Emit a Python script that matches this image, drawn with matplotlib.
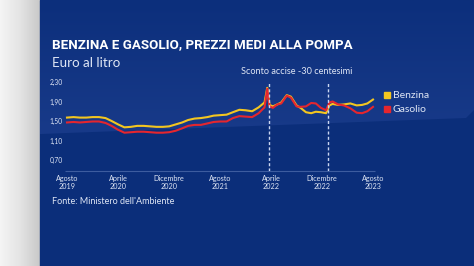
import numpy as np
import pandas as pd
import matplotlib
matplotlib.use('Agg')
import matplotlib.pyplot as plt
import matplotlib.dates as mdates
from matplotlib.patches import Polygon, Rectangle

### data (euro al litro)
dates = ['2019-08-01', '2019-09-01', '2019-10-01', '2019-11-01', '2019-12-01',
         '2020-01-01', '2020-02-01', '2020-03-01', '2020-04-01', '2020-05-01',
         '2020-06-01', '2020-07-01', '2020-08-01', '2020-09-01', '2020-10-01',
         '2020-11-01', '2020-12-01', '2021-01-01', '2021-02-01', '2021-03-01',
         '2021-04-01', '2021-05-01', '2021-06-01', '2021-07-01', '2021-08-01',
         '2021-09-01', '2021-10-01', '2021-11-01', '2021-12-01', '2022-01-01',
         '2022-02-01', '2022-03-01', '2022-03-14', '2022-03-25', '2022-04-10',
         '2022-05-01', '2022-05-20', '2022-06-15', '2022-07-05', '2022-08-01',
         '2022-08-20', '2022-09-15', '2022-10-10', '2022-11-01', '2022-11-25',
         '2022-12-20', '2023-01-05', '2023-01-20', '2023-02-15', '2023-03-15',
         '2023-04-15', '2023-05-15', '2023-06-10', '2023-07-05', '2023-08-01']
benzina = [1.57, 1.58, 1.57, 1.57, 1.58, 1.58, 1.56, 1.50, 1.43, 1.37,
           1.38, 1.40, 1.40, 1.39, 1.38, 1.38, 1.39, 1.43, 1.47, 1.52,
           1.55, 1.56, 1.58, 1.61, 1.62, 1.63, 1.68, 1.73, 1.72, 1.70,
           1.78, 1.88, 2.18, 1.83, 1.80, 1.84, 1.88, 2.03, 2.00, 1.82,
           1.77, 1.68, 1.66, 1.69, 1.68, 1.66, 1.82, 1.85, 1.83, 1.84,
           1.86, 1.82, 1.83, 1.86, 1.94]
gasolio = [1.47, 1.48, 1.47, 1.48, 1.49, 1.49, 1.46, 1.40, 1.32, 1.26,
           1.27, 1.28, 1.28, 1.27, 1.26, 1.26, 1.27, 1.30, 1.35, 1.40,
           1.42, 1.42, 1.45, 1.48, 1.49, 1.49, 1.56, 1.60, 1.59, 1.58,
           1.66, 1.78, 2.16, 1.80, 1.77, 1.84, 1.86, 2.02, 1.98, 1.80,
           1.79, 1.80, 1.87, 1.86, 1.77, 1.72, 1.88, 1.90, 1.84, 1.82,
           1.76, 1.67, 1.66, 1.70, 1.79]
yticks = [0.70, 1.10, 1.50, 1.90, 2.30]
ytick_labels = ['0,70', '1,10', '1,50', '1,90', '2,30']
xtick_dates = ['2019-08-01', '2020-04-01', '2020-12-01', '2021-08-01',
               '2022-04-01', '2022-12-01', '2023-08-01']
xtick_labels = ['Agosto\n2019', 'Aprile\n2020', 'Dicembre\n2020', 'Agosto\n2021',
                'Aprile\n2022', 'Dicembre\n2022', 'Agosto\n2023']
sconto_dates = ['2022-03-22', '2022-12-31']

BG = '#0b2e7a'
TXT = '#dfe6f5'
W, H = 474, 266

plt.rcParams['font.family'] = ['Lato', 'DejaVu Sans']

fig = plt.figure(figsize=(W / 100, H / 100), dpi=100)

### background (pixel coords)
bg = fig.add_axes([0, 0, 1, 1])
bg.set_xlim(0, W)
bg.set_ylim(H, 0)
bg.axis('off')
strip = np.linspace(0, 1, 40)[None, :]
bg.imshow(strip, extent=(0, 40, H, 0), cmap=matplotlib.colors.LinearSegmentedColormap.from_list(
    'g', ['#f4f4f4', '#e4e4e4', '#c9c9c9']), aspect='auto', zorder=0)
bg.add_patch(Rectangle((40, 0), W - 40, H, color=BG, zorder=1))
band = Polygon([(40, 0), (W, 0), (W, 110), (466, 118), (40, 134)], closed=True,
               facecolor='none', edgecolor='none')
bg.add_patch(band)
grad = np.linspace(0, 1, 100)[:, None]
im = bg.imshow(grad, extent=(40, W, 134, 0), aspect='auto', zorder=2,
               cmap=matplotlib.colors.LinearSegmentedColormap.from_list('b', ['#0c2f7c', '#183a89']))
im.set_clip_path(band)
bg.set_xlim(0, W)
bg.set_ylim(H, 0)

### texts
fig.text(52 / W, 1 - 45 / H, 'BENZINA E GASOLIO, PREZZI MEDI ALLA POMPA',
         family=['Roboto', 'DejaVu Sans'], weight='bold',
         fontsize=9.6, color='white', va='center', ha='left')
fig.text(52 / W, 1 - 63 / H, 'Euro al litro', fontsize=9.6, color=TXT,
         va='center', ha='left')
fig.text(52 / W, 1 - 202 / H, "Fonte: Ministero dell'Ambiente", fontsize=6.5,
         color=TXT, va='center', ha='left')
fig.text(297 / W, 1 - 72 / H, 'Sconto accise -30 centesimi', fontsize=6.6,
         color=TXT, va='center', ha='center')

### chart
x = pd.to_datetime(dates)
t0 = mdates.date2num(pd.Timestamp(xtick_dates[0]))
t1 = mdates.date2num(pd.Timestamp(xtick_dates[-1]))
px_per_day = (373 - 67) / (t1 - t0)
left_px, right_px = 48, 380
top_px, bot_px = 78, 171
ax = fig.add_axes([left_px / W, 1 - bot_px / H, (right_px - left_px) / W, (bot_px - top_px) / H])
ax.patch.set_alpha(0)
for s in ax.spines.values():
    s.set_visible(False)
ax.set_xlim(t0 - (67 - left_px) / px_per_day, t1 + (right_px - 373) / px_per_day)
v_per_px = 0.4 / 19.5
ax.set_ylim(1.5 - (bot_px - 121) * v_per_px, 1.5 + (121 - top_px) * v_per_px)

ax.plot(x, benzina, color='#f3c620', lw=1.5, solid_joinstyle='round', zorder=3)
ax.plot(x, gasolio, color='#e5262e', lw=1.5, solid_joinstyle='round', zorder=4)

ax.hlines(ax.get_ylim()[0], t0 - 2 / px_per_day, t1 + 2 / px_per_day, color='#3d5c9f',
          lw=0.8, clip_on=False)
for d in sconto_dates:
    ax.vlines(pd.Timestamp(d), ax.get_ylim()[0], 2.30, color='#c9d5f0', lw=1.0,
              linestyles=(0, (2.2, 1.6)), zorder=5)

ax.set_yticks(yticks)
ax.set_yticklabels(ytick_labels, fontsize=4.8, color=TXT)
ax.tick_params(axis='y', length=0, pad=-1)
for lab in ax.get_yticklabels():
    lab.set_ha('left')
ax.set_xticks(pd.to_datetime(xtick_dates))
ax.set_xticklabels(xtick_labels, fontsize=5.2, color=TXT, linespacing=1.1)
ax.tick_params(axis='x', length=0, pad=3)

### legend
for i, (name, col) in enumerate([('Benzina', '#f3c620'), ('Gasolio', '#e5262e')]):
    yc = 95 + i * 14
    bg.add_patch(Rectangle((384, yc - 3), 6, 6, color=col, zorder=6))
    bg.text(393, yc, name, fontsize=7.5, color=TXT, va='center', ha='left', zorder=6)

fig.savefig('out.png', dpi=100)
